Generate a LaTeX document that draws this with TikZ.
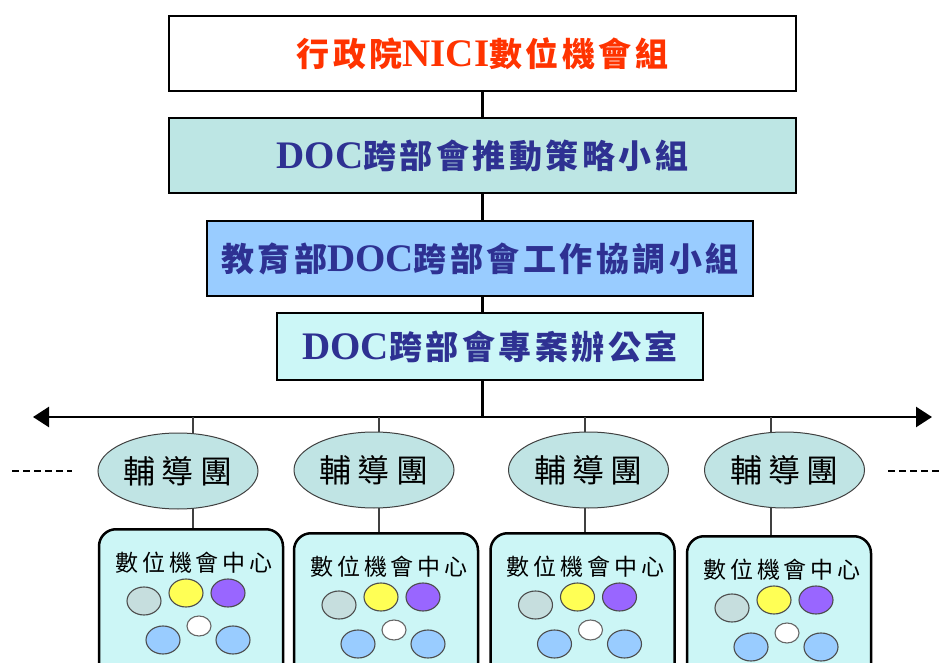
\documentclass[tikz,border=0pt]{standalone}
\usepackage{fontspec}
\setmainfont{Liberation Serif}
\newfontfamily\cjk{Noto Sans CJK TC}
\usetikzlibrary{shapes.geometric,arrows.meta}
\definecolor{redtxt}{HTML}{FF3300}
\definecolor{navy}{HTML}{2E3192}
\definecolor{tealbox}{HTML}{BDE6E4}
\definecolor{bluebox}{HTML}{99CCFF}
\definecolor{cyanbox}{HTML}{CCF7F7}
\definecolor{ellfill}{HTML}{C0E4E4}
\definecolor{cfill}{HTML}{CCF6F6}
\definecolor{cgray}{HTML}{C6DEDE}
\definecolor{cyellow}{HTML}{FFFF55}
\definecolor{cpurple}{HTML}{9966FF}
\definecolor{cblue}{HTML}{99CCFF}
\newcommand\zhB[1]{{\cjk\bfseries\addfontfeatures{LetterSpace=10.6}#1}}
\newcommand\latB[1]{{\fontsize{39}{40}\selectfont\bfseries #1}}
\tikzset{
  topbox/.style={draw=black, line width=2.5pt, inner sep=0pt, minimum height=75pt,
    font=\fontsize{33}{36}\selectfont, text=navy},
  mainline/.style={line width=2.5pt, draw=black},
  thinline/.style={line width=1.2pt, draw=black!75},
  ellnode/.style={ellipse, draw=black!75, line width=1pt, fill=ellfill, inner sep=0pt,
    minimum width=160pt, minimum height=76pt,
    font={\cjk\fontsize{32}{34}\selectfont\addfontfeatures{LetterSpace=20}}},
  centrebox/.style={draw=black, line width=2.5pt, fill=cfill, rounded corners=17pt,
    inner sep=0pt, minimum width=184pt, minimum height=170pt, anchor=north},
  centretext/.style={inner sep=0pt, font={\cjk\fontsize{23}{25}\selectfont\addfontfeatures{LetterSpace=17}}},
  bigdot/.style={ellipse, draw=black!70, line width=1.1pt, inner sep=0pt, minimum width=34pt, minimum height=28pt},
  smalldot/.style={ellipse, draw=black!60, line width=1.1pt, fill=white, inner sep=0pt, minimum width=24pt, minimum height=20pt},
  dots/.style={line width=2pt, dash pattern=on 7pt off 4pt}
}
\begin{document}
\begin{tikzpicture}[x=1pt,y=-1pt]
\clip (0,0) rectangle (940,663);
\fill[white] (0,0) rectangle (940,663);
% top boxes
\node[topbox, fill=white, minimum width=627pt, text=redtxt] (n1) at (482.5,53.5)
  {\zhB{行政院}\latB{NICI}\zhB{數位機會組}};
\node[topbox, fill=tealbox, minimum width=627pt] (n2) at (482.5,155.5)
  {\latB{DOC}\zhB{跨部會推動策略小組}};
\node[topbox, fill=bluebox, minimum width=546pt] (n3) at (480,258.5)
  {\zhB{教育部}\latB{DOC}\zhB{跨部會工作協調小組}};
\node[topbox, fill=cyanbox, minimum width=426pt, minimum height=67pt] (n4) at (490,346.5)
  {\latB{DOC}\zhB{跨部會專案辦公室}};
% vertical trunk
\coordinate (hl) at (482.5,417);
\coordinate (aL) at (33,417);
\coordinate (aR) at (932,417);
\draw[mainline] (n1.south) -- (n1.south |- n2.north);
\draw[mainline] (n2.south) -- (n2.south |- n3.north);
\draw[mainline] (n3.south -| n2.south) -- (n2.south |- n4.north);
\draw[mainline] (n4.south -| n2.south) -- (hl);
\draw[mainline, {Triangle[length=16pt,width=20pt]}-{Triangle[length=16pt,width=20pt]}] (aL) -- (aR);
% dotted continuations
\coordinate (dL1) at (12,471); \coordinate (dL2) at (72,471);
\coordinate (dR1) at (888,471); \coordinate (dR2) at (940,471);
\draw[dots] (dL1) -- (dL2);
\draw[dots] (dR1) -- (dR2);
% groups
\foreach \i/\ex/\ey/\bx/\by/\kx in {1/178/471/191/528/193, 2/374/470/386/532/379, 3/588.5/470/582.5/532/585, 4/784.5/470/779/535/771}{
  \coordinate (k\i) at (\kx,\by);
  \draw[thinline] (k\i |- hl) -- (k\i);
  \node[ellnode] (e\i) at (\ex,\ey) {輔導團};
  \node[centrebox] (b\i) at (\bx,\by) {};
  \node[centretext] (t\i) at ([shift={(3,35)}]b\i.north) {數位機會中心};
  \node[bigdot, fill=cgray] (g\i) at ([shift={(-47,73)}]b\i.north) {};
  \node[bigdot, fill=cyellow] (y\i) at ([shift={(-5,65)}]b\i.north) {};
  \node[bigdot, fill=cpurple] (p\i) at ([shift={(37,65)}]b\i.north) {};
  \node[smalldot] (w\i) at ([shift={(8,98)}]b\i.north) {};
  \node[bigdot, fill=cblue] (l\i) at ([shift={(-28,112)}]b\i.north) {};
  \node[bigdot, fill=cblue] (r\i) at ([shift={(42,112)}]b\i.north) {};
}
\end{tikzpicture}
\end{document}
